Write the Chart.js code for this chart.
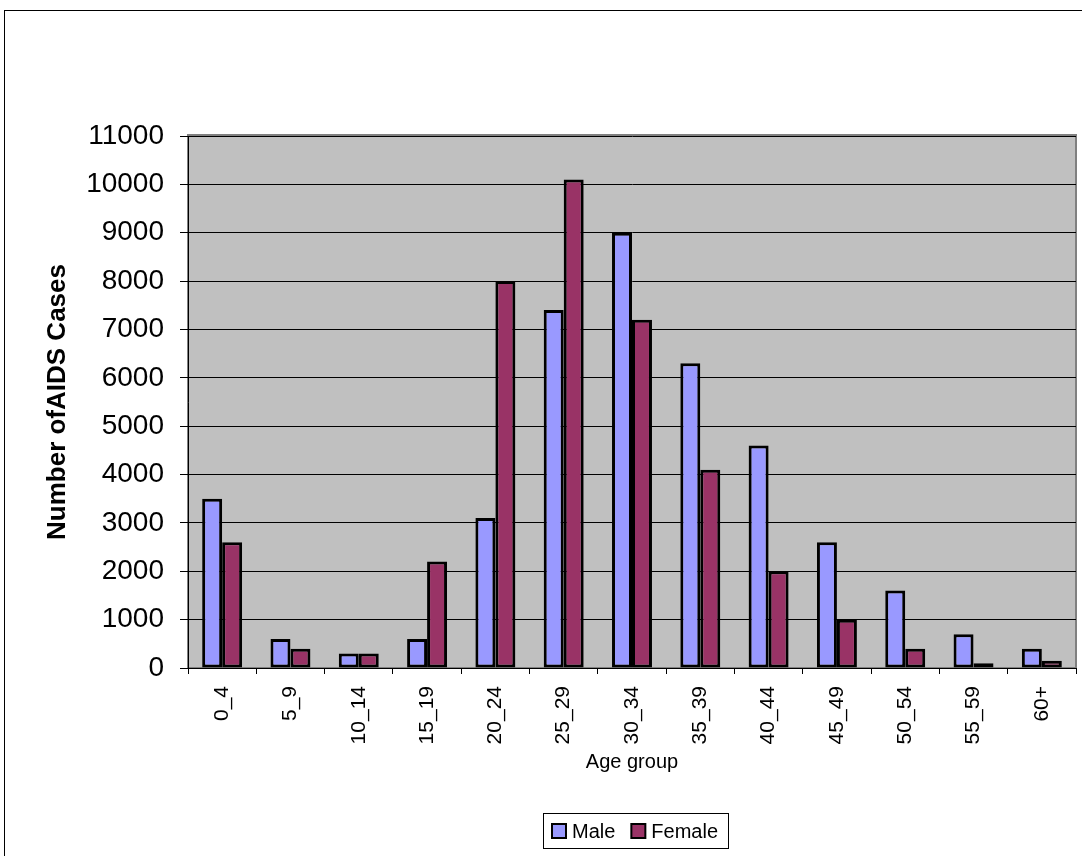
<!DOCTYPE html>
<html>
<head>
<meta charset="utf-8">
<script src="https://cdn.jsdelivr.net/npm/chart.js@4/dist/chart.umd.min.js"></script>
<style>
  html, body { margin: 0; padding: 0; background: #fff; }
  canvas { display: block; }
</style>
</head>
<body>
<canvas id="aidsChart" width="1082" height="856"></canvas>
<script>
// data
const ageGroups = ["0_4", "5_9", "10_14", "15_19", "20_24", "25_29", "30_34", "35_39", "40_44", "45_49", "50_54", "55_59", "60+"];
const maleCases = [3500, 600, 300, 600, 3100, 7400, 9000, 6300, 4600, 2600, 1600, 700, 400];
const femaleCases = [2600, 400, 300, 2200, 8000, 10100, 7200, 4100, 2000, 1000, 400, 100, 150];
const seriesNames = ["Male", "Female"];
const seriesColors = ["#9999FF", "#993366"];

const FONT = "'Liberation Sans', Arial, sans-serif";

// grey plot area + outer frame
const backdrop = {
    id: "backdrop",
    beforeDraw(chart) {
        const { ctx, chartArea: a } = chart;
        ctx.save();
        ctx.fillStyle = "#C0C0C0";
        ctx.fillRect(a.left, a.top, a.right - a.left, a.bottom - a.top);
        ctx.strokeStyle = "#808080";
        ctx.lineWidth = 2;
        ctx.strokeRect(a.left, a.top - 1, a.right - a.left, a.bottom - a.top + 1);
        // outer frame (runs off the right/bottom edge like the reference)
        ctx.strokeStyle = "#000";
        ctx.lineWidth = 1;
        ctx.strokeRect(4.5, 10.5, 1100, 900);
        ctx.restore();
    }
};

// boxed legend under the axis title
const boxLegend = {
    id: "boxLegend",
    afterDraw(chart) {
        const ctx = chart.ctx;
        ctx.save();
        ctx.strokeStyle = "#000";
        ctx.lineWidth = 1;
        ctx.strokeRect(543.5, 813.5, 185, 35);
        ctx.font = "20px " + FONT;
        ctx.textBaseline = "middle";
        ctx.fillStyle = "#000";
        let x = 552;
        seriesNames.forEach((name, i) => {
            ctx.fillStyle = seriesColors[i];
            ctx.fillRect(x, 824, 14, 14);
            ctx.lineWidth = 2;
            ctx.strokeRect(x, 824, 14, 14);
            ctx.fillStyle = "#000";
            ctx.fillText(name, x + 20, 832);
            x += 20 + ctx.measureText(name).width + 16;
        });
        ctx.restore();
    }
};

const ctx = document.getElementById("aidsChart").getContext("2d");
new Chart(ctx, {
    type: "bar",
    data: {
        labels: ageGroups,
        datasets: [
            { label: seriesNames[0], data: maleCases, backgroundColor: seriesColors[0], borderColor: "#000", borderWidth: 3, borderSkipped: false },
            { label: seriesNames[1], data: femaleCases, backgroundColor: seriesColors[1], borderColor: "#000", borderWidth: 3, borderSkipped: false }
        ]
    },
    options: {
        responsive: false,
        animation: false,
        layout: { padding: { top: 136, right: 6, left: 0, bottom: 0 } },
        datasets: { bar: { categoryPercentage: 0.585, barPercentage: 1.0 } },
        plugins: {
            legend: { display: false },
            tooltip: { enabled: false }
        },
        scales: {
            x: {
                afterFit: (s) => { s.height = 188; },
                grid: { offset: true, drawOnChartArea: false, tickLength: 6, color: "#000" },
                border: { color: "#000", width: 1 },
                ticks: {
                    autoSkip: false, minRotation: 90, maxRotation: 90, padding: 12,
                    color: "#000", font: { family: FONT, size: 21 }
                },
                title: {
                    display: true, text: "Age group", color: "#000",
                    font: { family: FONT, size: 20 }, padding: { top: 0, bottom: 82 }
                }
            },
            y: {
                min: 0, max: 11000,
                afterFit: (s) => { s.width = 188; },
                grid: { color: "#000", tickLength: 8 },
                border: { color: "#000", width: 1 },
                ticks: {
                    stepSize: 1000, padding: 16, color: "#000",
                    font: { family: FONT, size: 28 },
                    callback: (v) => String(v)
                },
                title: {
                    display: true, text: "Number ofAIDS Cases", color: "#000",
                    font: { family: FONT, size: 26, weight: "bold" }, padding: { top: 42, bottom: 0 }
                }
            }
        }
    },
    plugins: [backdrop, boxLegend]
});
</script>
</body>
</html>
